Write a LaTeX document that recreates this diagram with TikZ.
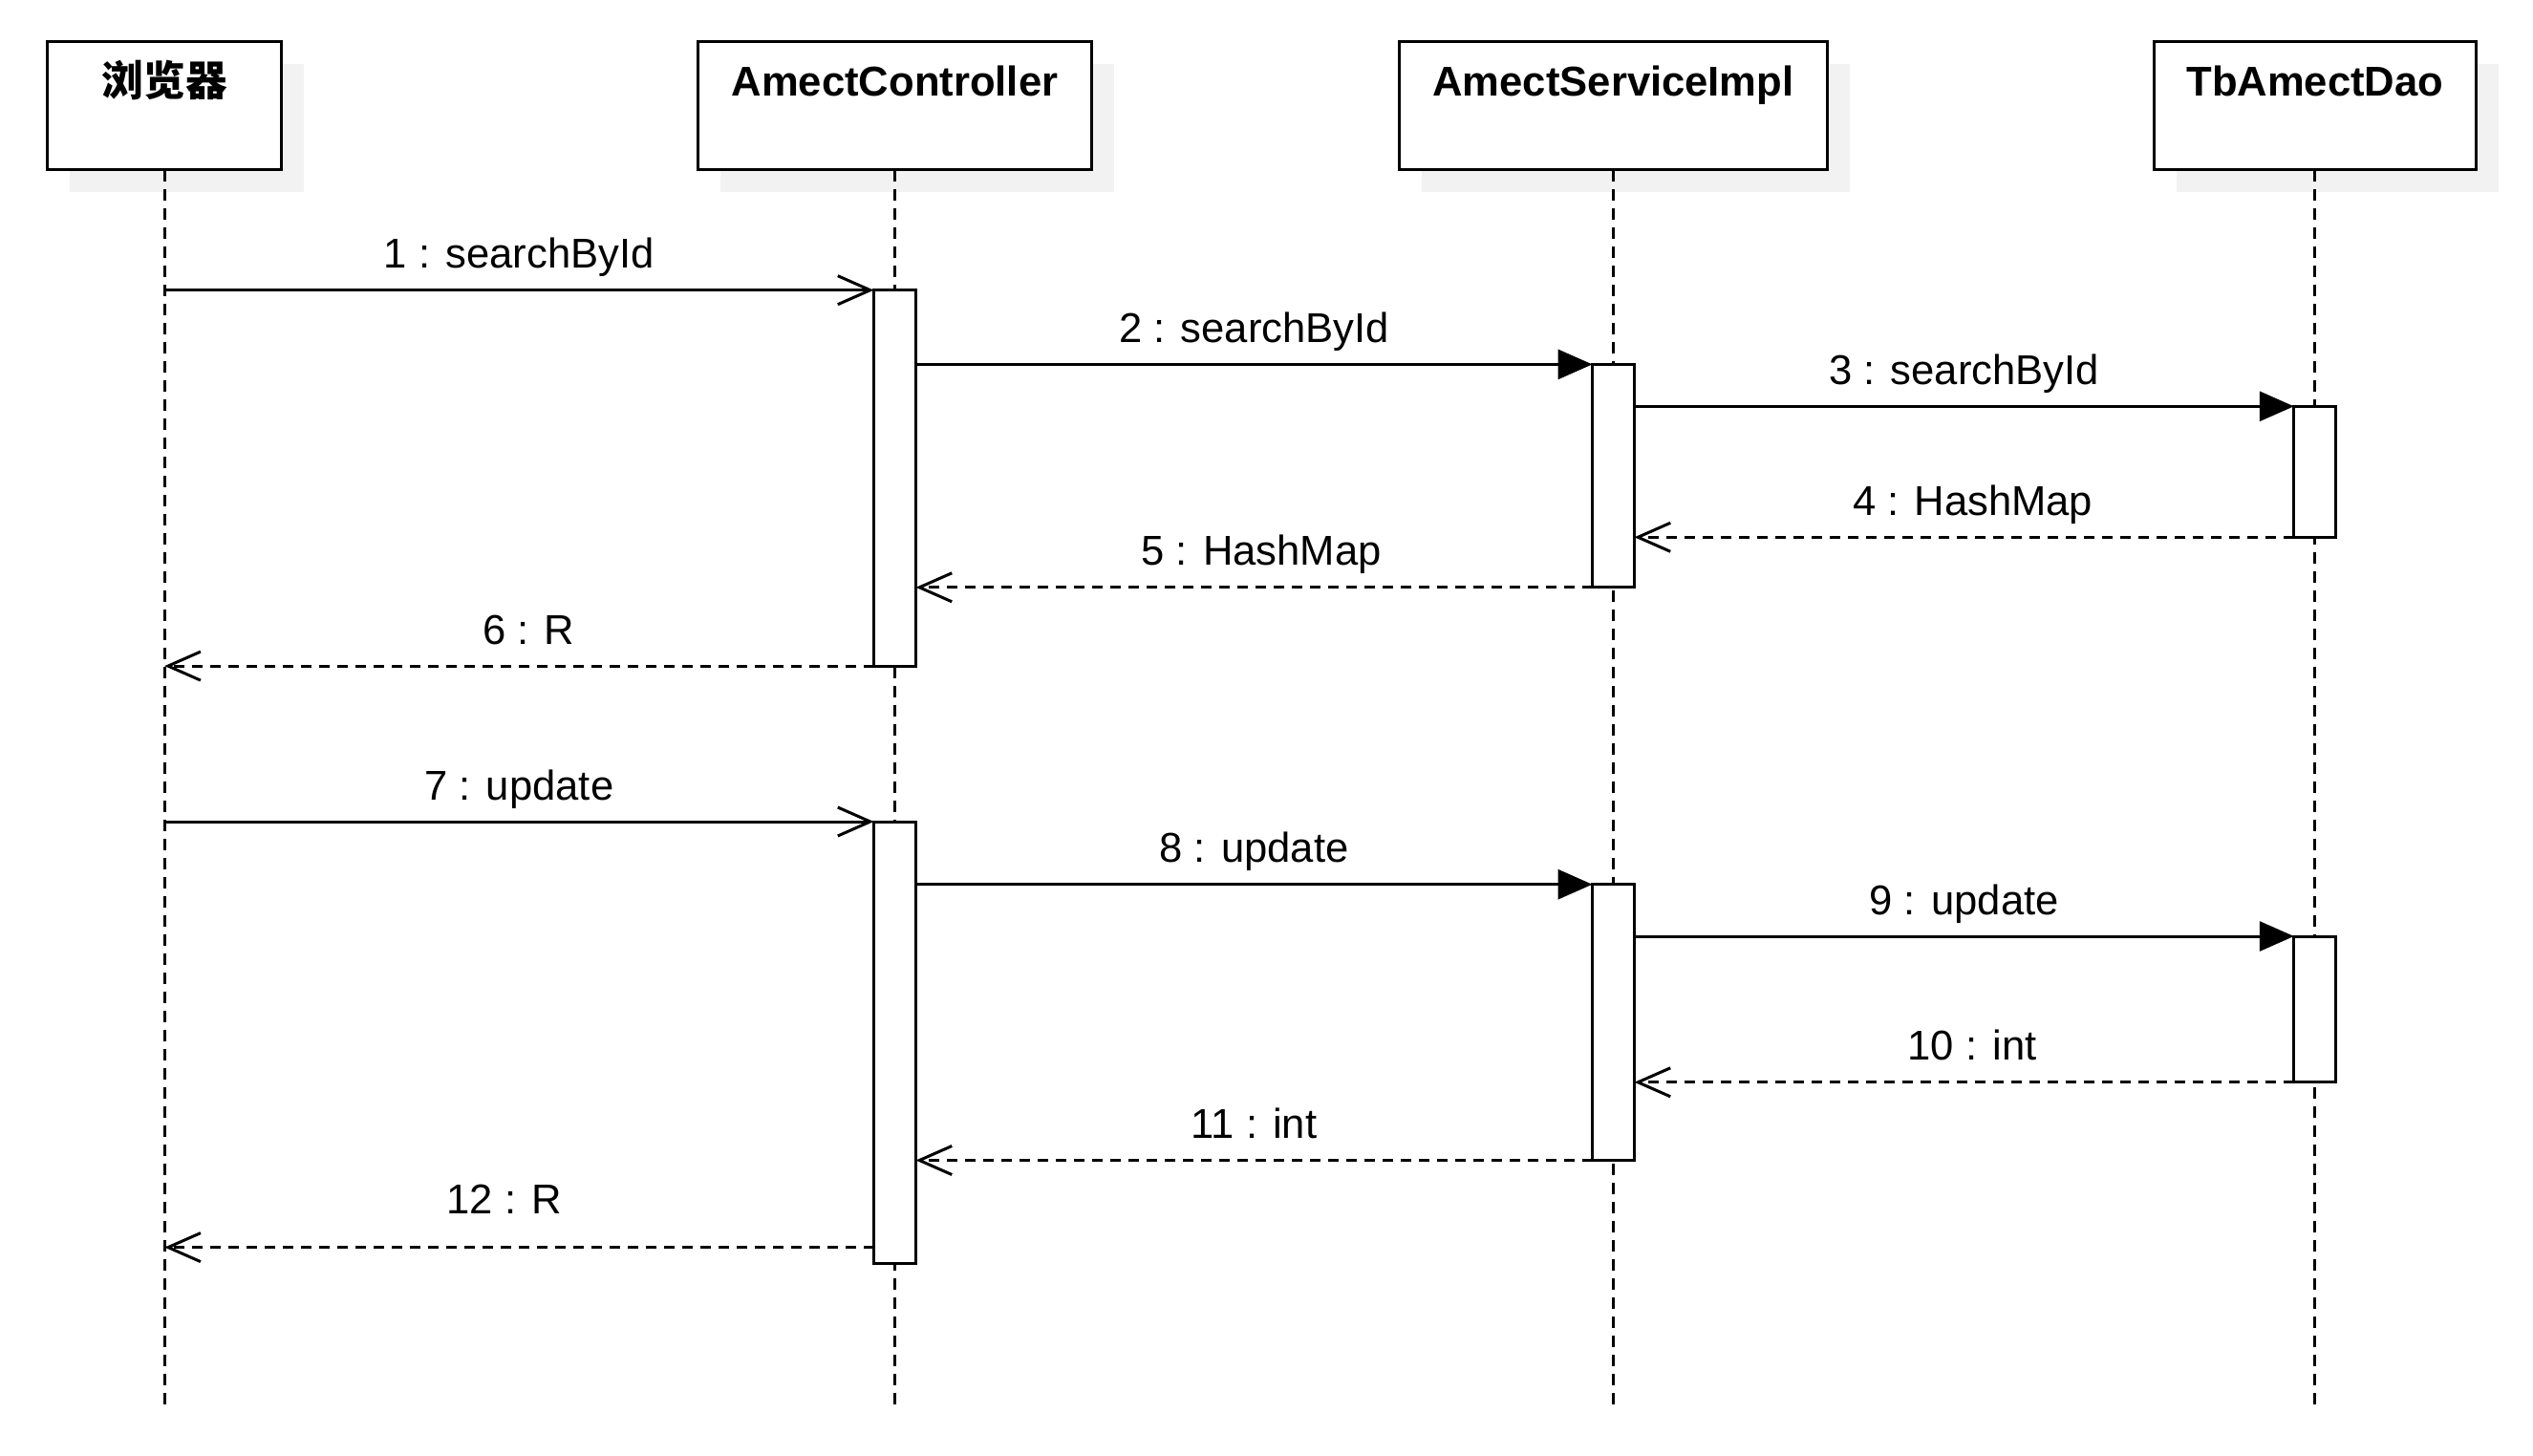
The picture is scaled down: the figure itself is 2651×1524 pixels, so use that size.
\documentclass[tikz,border=0pt]{standalone}
\usepackage{fontspec}
\setmainfont{Liberation Sans}
\newfontfamily\cjk{Noto Sans CJK SC}
\usetikzlibrary{arrows.meta,shadows}

\begin{document}
\begin{tikzpicture}[x=0.5pt, y=-0.5pt, line width=1.5pt,
  every node/.style={outer sep=0pt, font=\fontsize{21.8}{26}\selectfont},
  head/.style={draw, fill=white, inner sep=0pt, text height=28.4pt, text depth=38.8pt,
    font=\fontsize{21.8}{26}\selectfont\bfseries,
    drop shadow={shadow xshift=11.75pt, shadow yshift=-11.75pt, fill=black!5, opacity=1}},
  act/.style={draw, fill=white, minimum width=22pt, inner sep=0pt, anchor=north},
  life/.style={dash pattern=on 6pt off 4pt},
  call/.style={-{Triangle[length=18pt, width=15.5pt]}},
  send/.style={-{Straight Barb[length=17pt, width=15pt]}},
  reply/.style={dash pattern=on 5.5pt off 4pt, -{Straight Barb[length=17pt, width=15pt]}},
  msg/.style={anchor=base, yshift=11.5pt}]
\useasboundingbox[fill=white] (0,0) rectangle (2651,1524);

\node[head, minimum width=122.5pt] (browser) at (172.2,110.6) {\cjk\bfseries 浏览器};
\node[head, minimum width=205.8pt] (ctrl) at (936.5,110.6) {AmectController};
\node[head, minimum width=223.9pt] (svc) at (1688.5,110.6) {AmectServiceImpl};
\node[head, minimum width=168.75pt] (dao) at (2422.8,110.6) {TbAmectDao};

\coordinate (bottom) at (0,1476);
\draw[life] (browser.south) -- (browser.south |- bottom);
\draw[life] (ctrl.south) -- (ctrl.south |- bottom);
\draw[life] (svc.south) -- (svc.south |- bottom);
\draw[life] (dao.south) -- (dao.south |- bottom);

\node[act, minimum height=196.7pt] (ctrl1) at (936.5,303.7) {};
\node[act, minimum height=116.7pt] (svc1) at (1688.5,381.4) {};
\node[act, minimum height=68.5pt] (dao1) at (2422.8,425.3) {};
\node[act, minimum height=231.3pt] (ctrl2) at (936.5,860) {};
\node[act, minimum height=144.4pt] (svc2) at (1688.5,925.7) {};
\node[act, minimum height=76.4pt] (dao2) at (2422.8,980) {};

\draw[send] (browser.south |- ctrl1.north) -- node[msg] (m1) {1 : searchById} (ctrl1.north west);
\draw[call] (ctrl1.east |- svc1.north) -- node[msg] (m2) {2 : searchById} (svc1.north west);
\draw[call] (svc1.east |- dao1.north) -- node[msg] (m3) {3 : searchById} (dao1.north west);
\draw[reply] (dao1.south west) -- node[msg, xshift=4.5pt] (m4) {4 : HashMap} (dao1.south west -| svc1.east);
\draw[reply] (svc1.south west) -- node[msg, xshift=3.8pt] (m5) {5 : HashMap} (svc1.south west -| ctrl1.east);
\draw[reply] (ctrl1.south west) -- node[msg, xshift=5pt] (m6) {6 : R} (ctrl1.south west -| browser.south);

\draw[send] (browser.south |- ctrl2.north) -- node[msg] (m7) {7 : update} (ctrl2.north west);
\draw[call] (ctrl2.east |- svc2.north) -- node[msg] (m8) {8 : update} (svc2.north west);
\draw[call] (svc2.east |- dao2.north) -- node[msg] (m9) {9 : update} (dao2.north west);
\draw[reply] (dao2.south west) -- node[msg, xshift=4.25pt] (m10) {10 : int} (dao2.south west -| svc2.east);
\draw[reply] (svc2.south west) -- node[msg] (m11) {11 : int} (svc2.south west -| ctrl2.east);
\coordinate (ret12) at ([yshift=8.5pt]ctrl2.south west);
\draw[reply] (ret12) -- node[msg, yshift=6pt, xshift=-7.75pt] (m12) {12 : R} (ret12 -| browser.south);
\end{tikzpicture}
\end{document}
